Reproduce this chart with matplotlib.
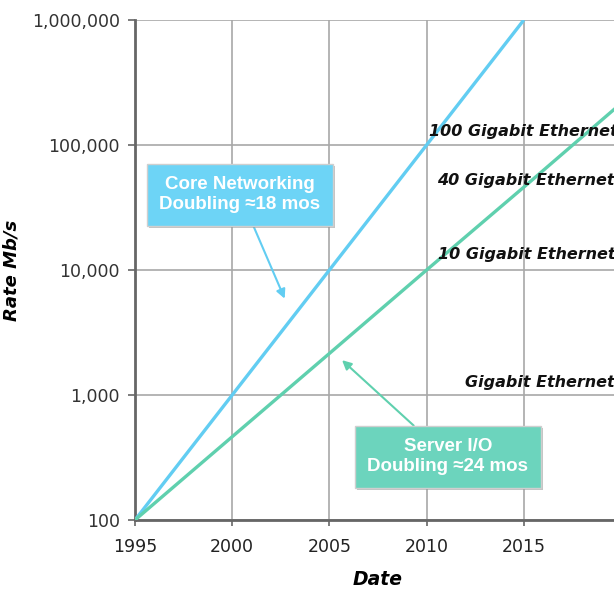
import matplotlib
matplotlib.use("Agg")
import matplotlib.pyplot as plt
import matplotlib.ticker as ticker
import matplotlib.patheffects as pe

# Growth lines (year, rate in Mb/s)
core_years = [1995, 2005, 2010, 2015]
core_rate = [100, 10000, 100000, 1000000]
server_years = [1995, 2005, 2010, 2015, 2020]
server_rate = [100, 2150, 10000, 46000, 215000]

# Ethernet standard labels (start year, rate)
eth_labels = ["100 Gigabit Ethernet", "40 Gigabit Ethernet",
              "10 Gigabit Ethernet", "Gigabit Ethernet"]
eth_x = [2010.1, 2010.55, 2010.6, 2012.0]
eth_y = [128000, 52000, 13300, 1260]

x_ticks = [1995, 2000, 2005, 2010, 2015]
y_ticks = [100, 1000, 10000, 100000, 1000000]

core_color = "#62CDF2"
server_color = "#5FD0AE"

fig = plt.figure(figsize=(6.14, 5.97), dpi=100)
ax = fig.add_axes([135 / 614, 77 / 597, 486 / 614, 500 / 597])

ax.plot(core_years, core_rate, color=core_color, lw=2.4, solid_capstyle="butt", zorder=3)
ax.plot(server_years, server_rate, color=server_color, lw=2.4, solid_capstyle="butt", zorder=3)

ax.set_yscale("log")
ax.set_xlim(1995, 2020)
ax.set_ylim(100, 1000000)
ax.set_xticks(x_ticks)
ax.set_yticks(y_ticks)
ax.yaxis.set_minor_locator(ticker.NullLocator())
ax.yaxis.set_major_formatter(ticker.FuncFormatter(lambda v, p: f"{int(v):,}"))

ax.grid(True, color="#a8a8a8", lw=1.2)
ax.set_axisbelow(True)
for s in ["top", "right"]:
    ax.spines[s].set_visible(False)
for s in ["left", "bottom"]:
    ax.spines[s].set_color("#666666")
    ax.spines[s].set_linewidth(2)
ax.tick_params(axis="y", length=5, width=1.2, color="#666666", pad=6,
               labelsize=12.5, labelcolor="#333333")
ax.tick_params(axis="x", length=4, width=1.2, color="#666666", pad=9,
               labelsize=12.5, labelcolor="#222222")

ax.set_xlabel("Date", fontsize=13.5, fontweight="bold", fontstyle="italic", labelpad=10)
ax.set_ylabel("Rate Mb/s", fontsize=13, fontweight="bold", fontstyle="italic")
ax.yaxis.set_label_coords(-0.235, 0.5)

for lab, x, y in zip(eth_labels, eth_x, eth_y):
    ax.text(x, y, lab, fontsize=11.5, fontweight="bold", fontstyle="italic",
            color="#111111", ha="left", va="center", zorder=4)

shadow = [pe.SimplePatchShadow(offset=(1.5, -1.5), shadow_rgbFace="#888888", alpha=0.5), pe.Normal()]

a1 = ax.annotate("Core Networking\nDoubling \u224818 mos", xy=(2002.7, 5900), xytext=(2000.4, 40000),
                 ha="center", va="center", fontsize=13.5, fontweight="bold", color="white",
                 family="Liberation Sans", linespacing=1.25,
                 bbox=dict(boxstyle="square,pad=0.65", fc="#6DD4F6", ec="#cfcfcf", lw=1),
                 arrowprops=dict(arrowstyle="-|>", color=core_color, lw=1.5, shrinkA=0, shrinkB=0),
                 zorder=5)
a1.get_bbox_patch().set_path_effects(shadow)

a2 = ax.annotate("Server I/O\nDoubling \u224824 mos", xy=(2005.65, 1900), xytext=(2011.1, 320),
                 ha="center", va="center", fontsize=13.5, fontweight="bold", color="white",
                 family="Liberation Sans", linespacing=1.25,
                 bbox=dict(boxstyle="square,pad=0.65", fc="#6CD4BD", ec="#cfcfcf", lw=1),
                 arrowprops=dict(arrowstyle="-|>", color=server_color, lw=1.5, shrinkA=0, shrinkB=0),
                 zorder=5)
a2.get_bbox_patch().set_path_effects(shadow)

fig.savefig("out.png", dpi=100)
